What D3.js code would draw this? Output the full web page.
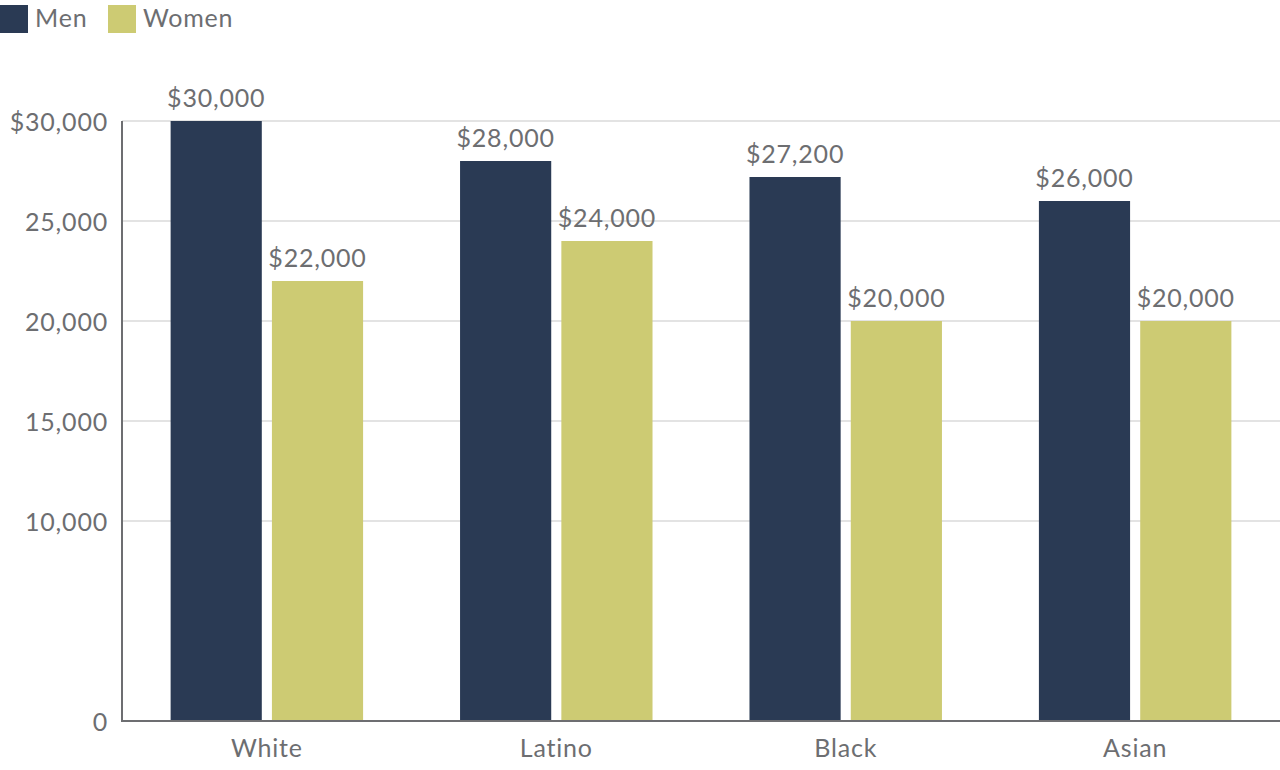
<!DOCTYPE html>
<html>
<head>
<meta charset="utf-8">
<script src="https://cdn.jsdelivr.net/npm/d3@7"></script>
<style>
  body { margin: 0; background: #fff; }
  text { font-family: Lato, "Open Sans", sans-serif; fill: #6d6e71; letter-spacing: 0.8px; }
</style>
</head>
<body>
<script>
const width = 1280,
      height = 770;

const groups = ["White", "Latino", "Black", "Asian"];
const series = ["Men", "Women"];
const men = [30000, 28000, 27200, 26000];
const women = [22000, 24000, 20000, 20000];
const yTicks = [0, 10000, 15000, 20000, 25000, 30000];
const colors = ["#2a3a54", "#cdcb73"];

const margin = {top: 121, right: 0, bottom: 49, left: 122};

const svg = d3.select("body")
    .append("svg")
    .attr("width", width)
    .attr("height", height);

const x = d3.scaleBand()
    .domain(groups)
    .range([margin.left, width - margin.right])
    .paddingInner(0.335)
    .paddingOuter(0.168);

const xInner = d3.scaleBand()
    .domain(series)
    .range([0, x.bandwidth()])
    .paddingInner(0.1);

const y = d3.scaleLinear()
    .domain([0, 30000])
    .range([height - margin.bottom, margin.top]);

const fmt = d3.format(",");

// gridlines
svg.append("g")
  .selectAll("line")
  .data(yTicks.filter(d => d > 0))
  .enter().append("line")
    .attr("x1", margin.left)
    .attr("x2", width)
    .attr("y1", d => y(d))
    .attr("y2", d => y(d))
    .attr("stroke", "#e3e3e3")
    .attr("stroke-width", 2);

// y labels
svg.append("g")
  .selectAll("text")
  .data(yTicks)
  .enter().append("text")
    .attr("x", 108)
    .attr("y", d => y(d))
    .attr("dy", "0.4em")
    .attr("text-anchor", "end")
    .style("font-size", "25px")
    .text(d => d === 30000 ? "$" + fmt(d) : fmt(d));

const rows = groups.map((g, i) => ({group: g, values: [men[i], women[i]]}));

const bars = svg.append("g")
  .selectAll("g")
  .data(rows)
  .enter().append("g")
    .attr("transform", d => `translate(${x(d.group)},0)`);

bars.selectAll("rect")
  .data(d => d.values.map((v, j) => ({key: series[j], value: v, j})))
  .enter().append("rect")
    .attr("x", d => xInner(d.key))
    .attr("y", d => y(d.value))
    .attr("width", xInner.bandwidth())
    .attr("height", d => y(0) - y(d.value))
    .attr("fill", d => colors[d.j]);

bars.selectAll("text")
  .data(d => d.values.map((v, j) => ({key: series[j], value: v})))
  .enter().append("text")
    .attr("x", d => xInner(d.key) + xInner.bandwidth() / 2)
    .attr("y", d => y(d.value) - 14)
    .attr("text-anchor", "middle")
    .style("font-size", "25px")
    .text(d => "$" + fmt(d.value));

// axes lines
svg.append("line")
    .attr("x1", margin.left).attr("x2", margin.left)
    .attr("y1", margin.top).attr("y2", y(0) + 1)
    .attr("stroke", "#6d6e71").attr("stroke-width", 2);

svg.append("line")
    .attr("x1", margin.left - 1).attr("x2", width)
    .attr("y1", y(0)).attr("y2", y(0))
    .attr("stroke", "#6d6e71").attr("stroke-width", 2);

// x labels
svg.append("g")
  .selectAll("text")
  .data(groups)
  .enter().append("text")
    .attr("x", d => x(d) + x.bandwidth() / 2)
    .attr("y", 757)
    .attr("text-anchor", "middle")
    .style("font-size", "25px")
    .text(d => d);

// legend
const legend = svg.append("g");
const legendX = [0, 108];
series.forEach((s, i) => {
  legend.append("rect")
      .attr("x", legendX[i])
      .attr("y", 5)
      .attr("width", 28)
      .attr("height", 28)
      .attr("fill", colors[i]);
  legend.append("text")
      .attr("x", legendX[i] + 35)
      .attr("y", 27)
      .style("font-size", "25px")
      .text(s);
});
</script>
</body>
</html>
